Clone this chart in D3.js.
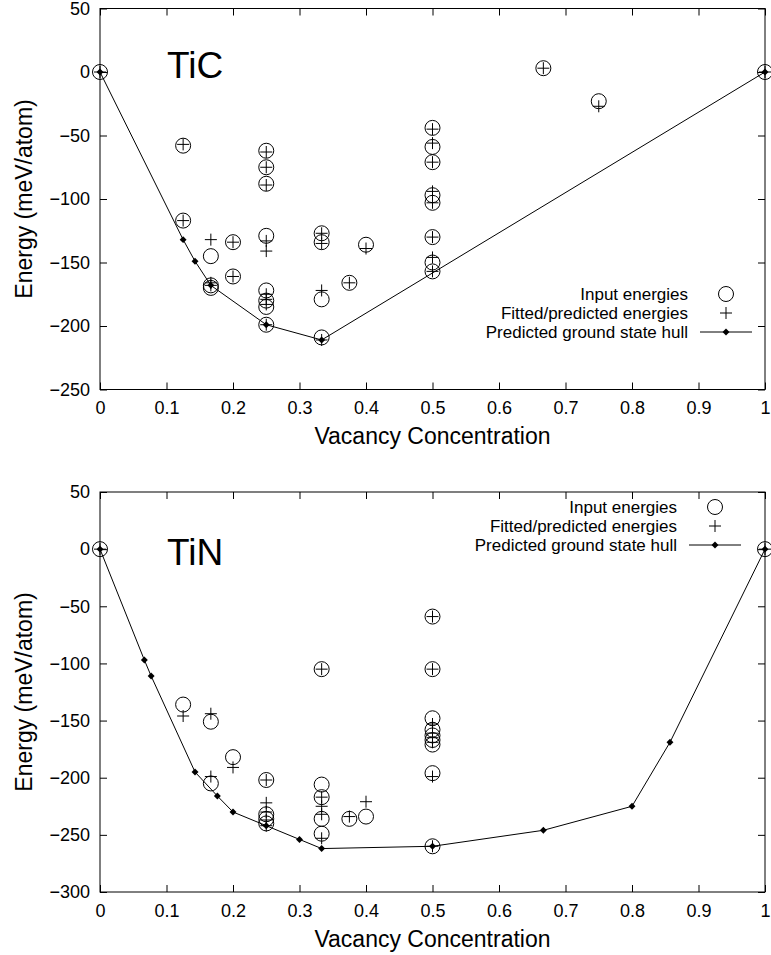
<!DOCTYPE html>
<html>
<head>
<meta charset="utf-8">
<script src="https://cdn.jsdelivr.net/npm/d3@7"></script>
<style>
  body { margin: 0; background: #fff; }
  svg { display: block; font-family: "Liberation Sans", Arial, sans-serif; }
  .axis text { font-size: 18px; fill: #000; }
  .axis line { stroke: #000; }
  .axis path { display: none; }
</style>
</head>
<body>
<div class="chart-container"></div>
<script>
// values: [vacancy concentration, energy meV/atom]
const ticInput = [
  [0, 0], [0.125, -58], [0.125, -117],
  [0.1667, -145], [0.1667, -168], [0.1667, -170],
  [0.2, -134], [0.2, -161],
  [0.25, -62], [0.25, -75], [0.25, -88], [0.25, -129], [0.25, -172], [0.25, -180], [0.25, -185], [0.25, -199],
  [0.3333, -127], [0.3333, -134], [0.3333, -179], [0.3333, -209],
  [0.375, -166], [0.4, -136],
  [0.5, -44], [0.5, -59], [0.5, -71], [0.5, -97], [0.5, -103], [0.5, -130], [0.5, -150], [0.5, -157],
  [0.6667, 3], [0.75, -23], [1, 0]
];
const ticFitted = [
  [0, 0], [0.125, -57], [0.125, -117],
  [0.1667, -132], [0.1667, -166], [0.1667, -168],
  [0.2, -134], [0.2, -161],
  [0.25, -63], [0.25, -75], [0.25, -89], [0.25, -133], [0.25, -141], [0.25, -175], [0.25, -179], [0.25, -183], [0.25, -199],
  [0.3333, -127], [0.3333, -135], [0.3333, -172], [0.3333, -211],
  [0.375, -166], [0.4, -139],
  [0.5, -45], [0.5, -56], [0.5, -71], [0.5, -94], [0.5, -103], [0.5, -130], [0.5, -146], [0.5, -157],
  [0.6667, 3], [0.75, -27], [1, 0]
];
const ticHull = [
  [0, 0], [0.125, -132], [0.1429, -149], [0.1667, -168], [0.25, -199], [0.3333, -211], [1, 0]
];

const tinInput = [
  [0, 0], [0.125, -136],
  [0.1667, -151], [0.1667, -205],
  [0.2, -182],
  [0.25, -202], [0.25, -232], [0.25, -236], [0.25, -240],
  [0.3333, -105], [0.3333, -206], [0.3333, -217], [0.3333, -236], [0.3333, -249],
  [0.375, -236], [0.4, -234],
  [0.5, -59], [0.5, -105], [0.5, -148], [0.5, -158], [0.5, -163], [0.5, -167], [0.5, -171], [0.5, -196], [0.5, -260],
  [1, 0]
];
const tinFitted = [
  [0, 0], [0.125, -146],
  [0.1667, -144], [0.1667, -199],
  [0.2, -191],
  [0.25, -202], [0.25, -222], [0.25, -230], [0.25, -237], [0.25, -242],
  [0.3333, -105], [0.3333, -217], [0.3333, -225], [0.3333, -232], [0.3333, -253],
  [0.375, -234], [0.4, -221],
  [0.5, -59], [0.5, -105], [0.5, -153], [0.5, -161], [0.5, -165], [0.5, -169], [0.5, -199], [0.5, -260],
  [1, 0]
];
const tinHull = [
  [0, 0], [0.0667, -97], [0.0769, -111], [0.1429, -195], [0.1765, -216], [0.2, -230], [0.25, -242],
  [0.3, -254], [0.3333, -262], [0.5, -260], [0.6667, -246], [0.8, -225], [0.8571, -169], [1, 0]
];

const xTicks = [0, 0.1, 0.2, 0.3, 0.4, 0.5, 0.6, 0.7, 0.8, 0.9, 1];
const ticYTicks = [50, 0, -50, -100, -150, -200, -250];
const tinYTicks = [50, 0, -50, -100, -150, -200, -250, -300];
const legendLabels = ['Input energies', 'Fitted/predicted energies', 'Predicted ground state hull'];

const svg_width = 771;
const svg_height = 955;

const svg = d3.select('.chart-container').append('svg')
  .attr('width', svg_width).attr('height', svg_height);

const plusPath = 'M-6,0H6M0,-6V6';
const diamond = d3.symbol().type(d3.symbolSquare).size(24);
const legStep = 19;

function drawPanel(cfg) {
  const left = 100, right = 765;
  const x = d3.scaleLinear().domain([0, 1]).range([left, right]);
  const y = d3.scaleLinear().domain(d3.extent(cfg.yTicks)).range([cfg.bottom, cfg.top]);
  const g = svg.append('g');

  // ticks inside on all four sides, labels only left / bottom
  g.append('g').attr('class', 'axis')
    .attr('transform', `translate(0,${cfg.bottom})`)
    .call(d3.axisBottom(x).tickValues(xTicks).tickFormat(d3.format('')).tickSizeInner(-7).tickSizeOuter(0).tickPadding(12));
  g.append('g').attr('class', 'axis')
    .attr('transform', `translate(0,${cfg.top})`)
    .call(d3.axisTop(x).tickValues(xTicks).tickFormat('').tickSizeInner(-7).tickSizeOuter(0));
  g.append('g').attr('class', 'axis')
    .attr('transform', `translate(${left},0)`)
    .call(d3.axisLeft(y).tickValues(cfg.yTicks).tickSizeInner(-7).tickSizeOuter(0).tickPadding(10));
  g.append('g').attr('class', 'axis')
    .attr('transform', `translate(${right},0)`)
    .call(d3.axisRight(y).tickValues(cfg.yTicks).tickFormat('').tickSizeInner(-7).tickSizeOuter(0));

  g.append('rect')
    .attr('x', left).attr('y', cfg.top)
    .attr('width', right - left).attr('height', cfg.bottom - cfg.top)
    .attr('fill', 'none').attr('stroke', '#000').attr('stroke-width', 1);

  // axis titles
  g.append('text')
    .attr('x', (left + right) / 2).attr('y', cfg.bottom + 54.5)
    .attr('text-anchor', 'middle').style('font-size', '23px')
    .text('Vacancy Concentration');
  g.append('text')
    .attr('transform', `translate(24,${(cfg.top + cfg.bottom) / 2}) rotate(-90)`)
    .attr('dy', '0.33em')
    .attr('text-anchor', 'middle').style('font-size', '23px')
    .text('Energy (meV/atom)');

  g.append('text')
    .attr('x', 167).attr('y', cfg.top + cfg.titleDy)
    .style('font-size', '37px')
    .text(cfg.title);

  // hull line
  const line = d3.line().x(d => x(d[0])).y(d => y(d[1]));
  g.append('path').datum(cfg.hull)
    .attr('d', line).attr('fill', 'none').attr('stroke', '#000').attr('stroke-width', 1);

  g.selectAll('.input').data(cfg.input).enter()
    .append('circle').attr('class', 'input')
    .attr('cx', d => x(d[0])).attr('cy', d => y(d[1])).attr('r', 7.5)
    .attr('fill', 'none').attr('stroke', '#000').attr('stroke-width', 1);

  g.selectAll('.fitted').data(cfg.fitted).enter()
    .append('path').attr('class', 'fitted')
    .attr('transform', d => `translate(${x(d[0])},${y(d[1])})`)
    .attr('d', plusPath).attr('stroke', '#000').attr('stroke-width', 1);

  g.selectAll('.hullpt').data(cfg.hull).enter()
    .append('path').attr('class', 'hullpt')
    .attr('transform', d => `translate(${x(d[0])},${y(d[1])}) rotate(45)`)
    .attr('d', diamond).attr('fill', '#000');

  // legend
  const lg = g.append('g').attr('transform', `translate(${cfg.legX},${cfg.legY})`);
  lg.selectAll('text').data(legendLabels).enter()
    .append('text')
    .attr('x', 0).attr('y', (d, i) => i * legStep).attr('dy', '0.35em')
    .attr('text-anchor', 'end').style('font-size', '17px')
    .text(d => d);
  lg.append('circle').attr('cx', 38).attr('cy', 0).attr('r', 7.5)
    .attr('fill', 'none').attr('stroke', '#000');
  lg.append('path').attr('transform', `translate(38,${legStep})`).attr('d', plusPath).attr('stroke', '#000');
  lg.append('line').attr('x1', 12).attr('x2', 64).attr('y1', 2 * legStep).attr('y2', 2 * legStep).attr('stroke', '#000');
  lg.append('path').attr('transform', `translate(38,${2 * legStep}) rotate(45)`).attr('d', diamond).attr('fill', '#000');
}

drawPanel({
  title: 'TiC', top: 8.5, bottom: 389.5, yTicks: ticYTicks, titleDy: 69.5,
  input: ticInput, fitted: ticFitted, hull: ticHull, legX: 688, legY: 294
});
drawPanel({
  title: 'TiN', top: 492, bottom: 892, yTicks: tinYTicks, titleDy: 73,
  input: tinInput, fitted: tinFitted, hull: tinHull, legX: 677, legY: 507
});
</script>
</body>
</html>
